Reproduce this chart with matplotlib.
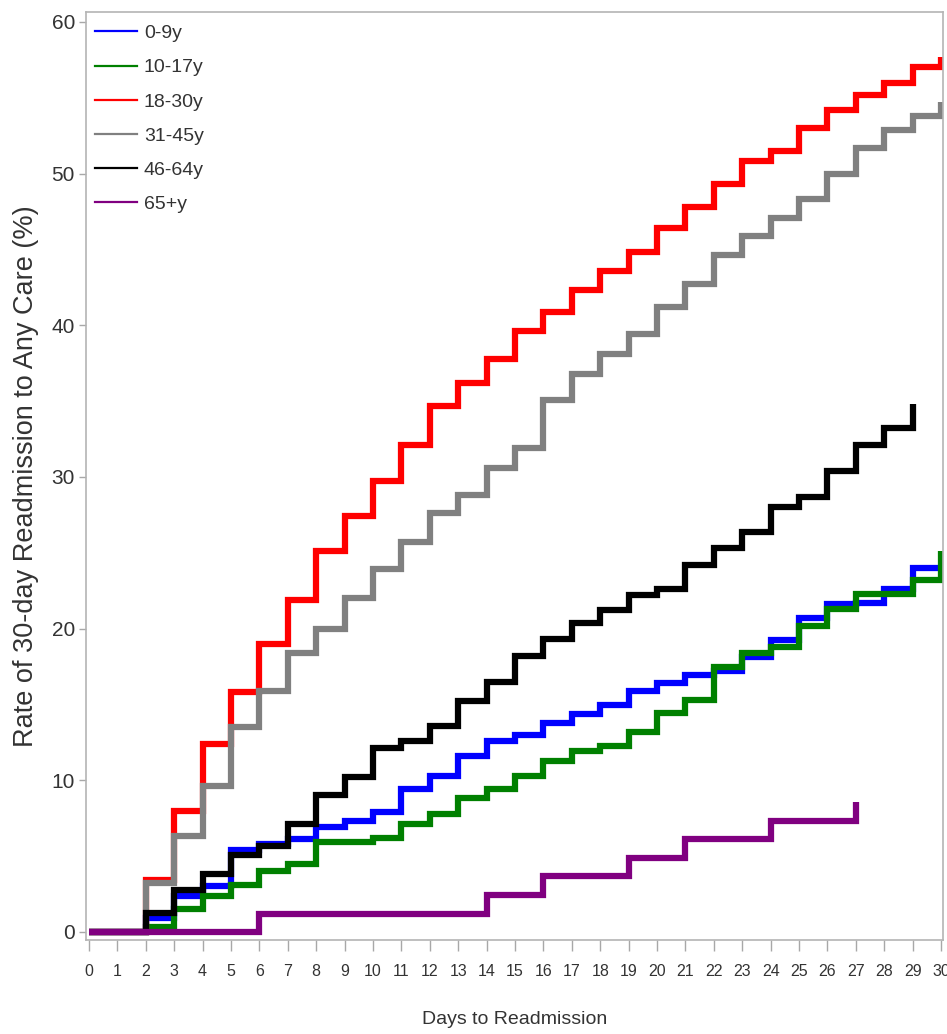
import matplotlib.pyplot as plt
from matplotlib.lines import Line2D

plt.rcParams['font.family'] = ['Liberation Sans', 'DejaVu Sans']

# cumulative readmission rate (%) by day, one value per day from day 0
groups = ['0-9y', '10-17y', '18-30y', '31-45y', '46-64y', '65+y']
colors = ['#0000ff', '#008000', '#ff0000', '#808080', '#000000', '#800080']

rate_0_9 = [0, 0, 0.95, 2.4, 3.0, 5.4, 5.8, 6.1, 6.9, 7.3, 7.9, 9.4, 10.3, 11.6, 12.6,
            13.0, 13.75, 14.35, 14.96, 15.9, 16.4, 16.95, 17.2, 18.1, 19.25, 20.7,
            21.6, 21.7, 22.6, 24.0, 24.0]
rate_10_17 = [0, 0, 0.33, 1.5, 2.4, 3.1, 4.0, 4.5, 5.9, 5.9, 6.2, 7.1, 7.8, 8.85, 9.45,
              10.3, 11.3, 11.9, 12.25, 13.2, 14.45, 15.3, 17.5, 18.4, 18.8, 20.2,
              21.3, 22.25, 22.25, 23.2, 25.1]
rate_18_30 = [0, 0, 3.4, 8.0, 12.4, 15.8, 19.0, 21.9, 25.1, 27.4, 29.7, 32.1, 34.7, 36.2,
              37.8, 39.6, 40.9, 42.3, 43.6, 44.8, 46.4, 47.8, 49.3, 50.8, 51.5, 53.0,
              54.2, 55.2, 56.0, 57.0, 57.7]
rate_31_45 = [0, 0, 3.2, 6.3, 9.6, 13.5, 15.9, 18.4, 20.0, 22.0, 23.9, 25.7, 27.6, 28.8,
              30.6, 31.9, 35.1, 36.8, 38.1, 39.4, 41.2, 42.7, 44.6, 45.9, 47.1, 48.3,
              50.0, 51.7, 52.9, 53.8, 54.7]
rate_46_64 = [0, 0, 1.25, 2.75, 3.8, 5.1, 5.7, 7.1, 9.0, 10.2, 12.1, 12.6, 13.6, 15.2,
              16.5, 18.2, 19.3, 20.4, 21.2, 22.2, 22.6, 24.2, 25.3, 26.4, 28.0, 28.7,
              30.4, 32.1, 33.2, 34.8]
rate_65p = [0, 0, 0, 0, 0, 0, 1.2, 1.2, 1.2, 1.2, 1.2, 1.2, 1.2, 1.2, 2.45, 2.45,
            3.7, 3.7, 3.7, 4.85, 4.85, 6.15, 6.15, 6.15, 7.3, 7.3, 7.3, 8.6]

series = [rate_0_9, rate_10_17, rate_18_30, rate_31_45, rate_46_64, rate_65p]

fig = plt.figure(figsize=(9.47, 10.34), dpi=100)
ax = fig.add_axes([0.0908, 0.0909, 0.905, 0.8978])

for vals, c in zip(series, colors):
    days = list(range(len(vals)))
    ax.plot(days, vals, drawstyle='steps-post', color=c, lw=4.5,
            solid_joinstyle='miter', solid_capstyle='butt')

ax.set_xlim(-0.106, 30.07)
ax.set_ylim(-0.53, 60.67)
ax.set_xticks(range(0, 31))
ax.set_yticks(range(0, 61, 10))

for s in ax.spines.values():
    s.set_color('#b4b4b4')
    s.set_linewidth(1.2)

ax.tick_params(axis='x', length=8, width=1, color='#a8a8a8', labelsize=11.5,
               labelcolor='#333333', pad=9)
ax.tick_params(axis='y', length=5, width=1, color='#a8a8a8', labelsize=15,
               labelcolor='#333333', pad=3)

ax.set_xlabel('Days to Readmission', fontsize=14, color='#333333', labelpad=23)
ax.set_ylabel('Rate of 30-day Readmission to Any Care (%)', fontsize=19.5,
              color='#333333', labelpad=9)

handles = [Line2D([0], [0], color=c, lw=1.6) for c in colors]
ax.legend(handles, groups, loc='upper left', bbox_to_anchor=(0.0105, 0.986),
          frameon=False, fontsize=14, handlelength=2.16, handletextpad=0.35,
          labelspacing=0.85, borderaxespad=0, borderpad=0, labelcolor='#333333')

fig.savefig('out.png', dpi=100)
